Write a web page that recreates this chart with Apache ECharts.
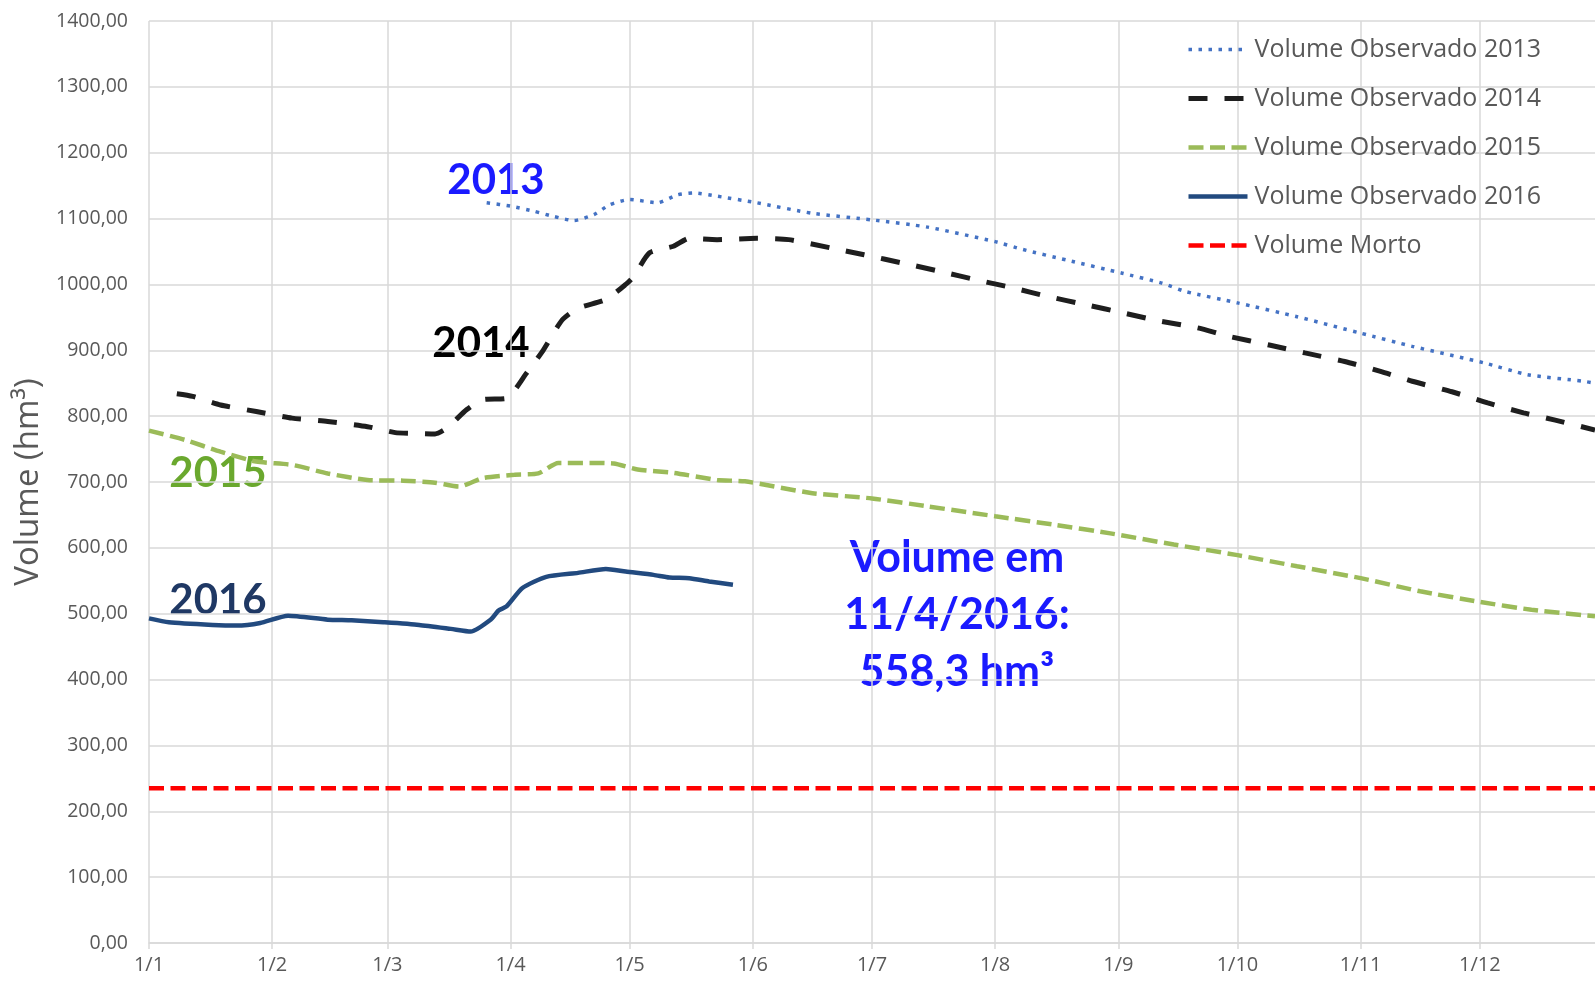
<!DOCTYPE html>
<html>
<head>
<meta charset="utf-8">
<script src="https://cdn.jsdelivr.net/npm/echarts@6/dist/echarts.min.js"></script>
<style>
html, body { margin: 0; padding: 0; background: #fff; }
#main { width: 1595px; height: 983px; }
</style>
</head>
<body>
<div id="main"></div>
<script>
'use strict';

// eixo x: dias do ano (d/m), 1/1 ate 30/12
var monthLen = [31, 29, 31, 30, 31, 30, 31, 31, 30, 31, 30, 31];
var days = [];
for (var m = 1; m <= 12; m++) {
    for (var d = 1; d <= monthLen[m - 1]; d++) {
        days.push(d + '/' + m);
    }
}
days = days.slice(0, 365);

var legendNames = ['Volume Observado 2013', 'Volume Observado 2014', 'Volume Observado 2015', 'Volume Observado 2016', 'Volume Morto'];

var vol2013 = [
    ['26/3', 1124], ['1/4', 1119], ['7/4', 1111], ['12/4', 1103], ['17/4', 1097], ['22/4', 1106],
    ['26/4', 1121], ['1/5', 1129], ['8/5', 1124], ['13/5', 1136], ['17/5', 1139], ['23/5', 1134],
    ['2/6', 1124], ['16/6', 1108], ['1/7', 1098], ['15/7', 1087], ['1/8', 1065], ['8/8', 1053],
    ['19/8', 1037], ['2/9', 1017], ['12/9', 1002], ['18/9', 989], ['1/10', 972], ['16/10', 951],
    ['1/11', 926], ['14/11', 906], ['2/12', 881], ['13/12', 863], ['27/12', 853], ['30/12', 850]
];
var vol2014 = [
    ['8/1', 834], ['12/1', 830], ['19/1', 817], ['28/1', 807], ['6/2', 797], ['15/2', 792],
    ['25/2', 784], ['3/3', 775], ['7/3', 774], ['13/3', 773], ['16/3', 782], ['21/3', 810],
    ['25/3', 825], ['31/3', 827], ['5/4', 865], ['9/4', 898], ['14/4', 946], ['18/4', 964],
    ['25/4', 977], ['30/4', 1000], ['2/5', 1012], ['6/5', 1048], ['12/5', 1058], ['16/5', 1070],
    ['23/5', 1068], ['2/6', 1070], ['10/6', 1068], ['21/6', 1055], ['29/6', 1045], ['9/7', 1032],
    ['18/7', 1020], ['28/7', 1006], ['6/8', 994], ['14/8', 982], ['24/8', 969], ['2/9', 957],
    ['11/9', 945], ['21/9', 934], ['29/9', 921], ['9/10', 908], ['18/10', 896], ['28/10', 883],
    ['6/11', 868], ['14/11', 853], ['24/11', 837], ['3/12', 820], ['12/12', 805], ['20/12', 794],
    ['30/12', 779]
];
var vol2015 = [
    ['1/1', 778], ['10/1', 764], ['19/1', 746], ['28/1', 731], ['6/2', 726], ['15/2', 713],
    ['25/2', 703], ['5/3', 702], ['13/3', 699], ['19/3', 693], ['25/3', 706], ['2/4', 711],
    ['8/4', 713], ['13/4', 729], ['21/4', 729], ['27/4', 728], ['3/5', 719], ['12/5', 714],
    ['23/5', 703], ['30/5', 701], ['16/6', 683], ['1/7', 675], ['15/7', 663], ['1/8', 648],
    ['16/8', 635], ['30/8', 622], ['15/9', 605], ['1/10', 589], ['16/10', 572], ['1/11', 554],
    ['16/11', 534], ['1/12', 518], ['14/12', 506], ['30/12', 496]
];
var vol2016 = [
    ['1/1', 493], ['6/1', 487], ['17/1', 483], ['23/1', 482], ['29/1', 486], ['5/2', 497],
    ['15/2', 491], ['21/2', 490], ['29/2', 487], ['9/3', 483], ['17/3', 477], ['22/3', 473],
    ['27/3', 491], ['29/3', 505], ['31/3', 511], ['4/4', 539], ['10/4', 556], ['18/4', 562],
    ['25/4', 568], ['30/4', 564], ['7/5', 559], ['11/5', 555], ['16/5', 554], ['21/5', 549],
    ['27/5', 544]
];
var volMorto = [['1/1', 235], ['30/12', 235]];

var colors = ['#4472c4', '#1e1e1e', '#9bbb59', '#224a7f', '#ff0000'];

function isMonthStart(idx, val) {
    return String(val).split('/')[0] === '1';
}

var myChart = echarts.init(document.getElementById('main'));

var option = {
    animation: false,
    grid: {
        left: 149,
        right: 0,
        top: 21,
        bottom: 40,
        containLabel: false,
        outerBoundsMode: 'none'
    },
    legend: {
        orient: 'vertical',
        left: 1181,
        top: 32,
        itemWidth: 59,
        itemHeight: 14,
        itemGap: 24,
        data: legendNames,
        itemStyle: { opacity: 0 },
        lineStyle: { width: 'inherit' },
        textStyle: {
            color: '#595959',
            fontSize: 25,
            lineHeight: 25,
            fontFamily: 'Open Sans',
            padding: [0, 0, 0, 2]
        }
    },
    xAxis: {
        type: 'category',
        boundaryGap: false,
        data: days,
        axisLine: { lineStyle: { color: '#d9d9d9', width: 1.5 } },
        axisTick: { interval: isMonthStart, length: 6, lineStyle: { color: '#d9d9d9', width: 1.5 } },
        axisLabel: {
            interval: isMonthStart,
            color: '#595959',
            fontSize: 20,
            fontFamily: 'Open Sans',
            margin: 12
        },
        splitLine: { show: true, interval: isMonthStart, lineStyle: { color: '#d9d9d9', width: 1.5 } }
    },
    yAxis: {
        type: 'value',
        min: 0,
        max: 1400,
        interval: 100,
        name: 'Volume (hm³)',
        nameLocation: 'middle',
        nameGap: 103,
        nameTextStyle: { color: '#595959', fontSize: 33, fontFamily: 'Open Sans' },
        axisLine: { show: false },
        axisTick: { show: false },
        axisLabel: {
            color: '#595959',
            fontSize: 19.5,
            fontFamily: 'Open Sans',
            margin: 21,
            formatter: function (v) { return v.toFixed(2).replace('.', ','); }
        },
        splitLine: { lineStyle: { color: '#d9d9d9', width: 1.5 } }
    },
    series: [
        {
            name: legendNames[0], type: 'line', data: vol2013, symbol: 'none', smooth: 0.2,
            lineStyle: { color: colors[0], width: 3.5, type: [3.5, 6.5], cap: 'butt' },
            itemStyle: { color: colors[0] }
        },
        {
            name: legendNames[1], type: 'line', data: vol2014, symbol: 'none', smooth: 0.2,
            lineStyle: { color: colors[1], width: 5, type: [19, 17] },
            itemStyle: { color: colors[1] }
        },
        {
            name: legendNames[2], type: 'line', data: vol2015, symbol: 'none', smooth: 0.2,
            lineStyle: { color: colors[2], width: 4.5, type: [15, 6.5] },
            itemStyle: { color: colors[2] }
        },
        {
            name: legendNames[3], type: 'line', data: vol2016, symbol: 'none', smooth: 0.2,
            lineStyle: { color: colors[3], width: 4.5 },
            itemStyle: { color: colors[3] }
        },
        {
            name: legendNames[4], type: 'line', data: volMorto, symbol: 'none',
            lineStyle: { color: colors[4], width: 4.5, type: [15, 6.5] },
            itemStyle: { color: colors[4] }
        }
    ],
    graphic: [
        { type: 'text', x: 496, y: 180, style: { text: '2013', fill: '#1a1aff', font: 'bold 42px Lato', align: 'center', verticalAlign: 'middle' } },
        { type: 'text', x: 481, y: 343, style: { text: '2014', fill: '#000000', font: 'bold 42px Lato', align: 'center', verticalAlign: 'middle' } },
        { type: 'text', x: 218, y: 473, style: { text: '2015', fill: '#6aa82e', font: 'bold 42px Lato', align: 'center', verticalAlign: 'middle' } },
        { type: 'text', x: 218, y: 600, style: { text: '2016', fill: '#1f3864', font: 'bold 42px Lato', align: 'center', verticalAlign: 'middle' } },
        { type: 'text', x: 957, y: 615, style: { text: 'Volume em\n11/4/2016:\n558,3 hm³', fill: '#1a1aff', font: 'bold 43px Lato', lineHeight: 57, align: 'center', verticalAlign: 'middle' } }
    ]
};

myChart.setOption(option);
</script>
</body>
</html>
